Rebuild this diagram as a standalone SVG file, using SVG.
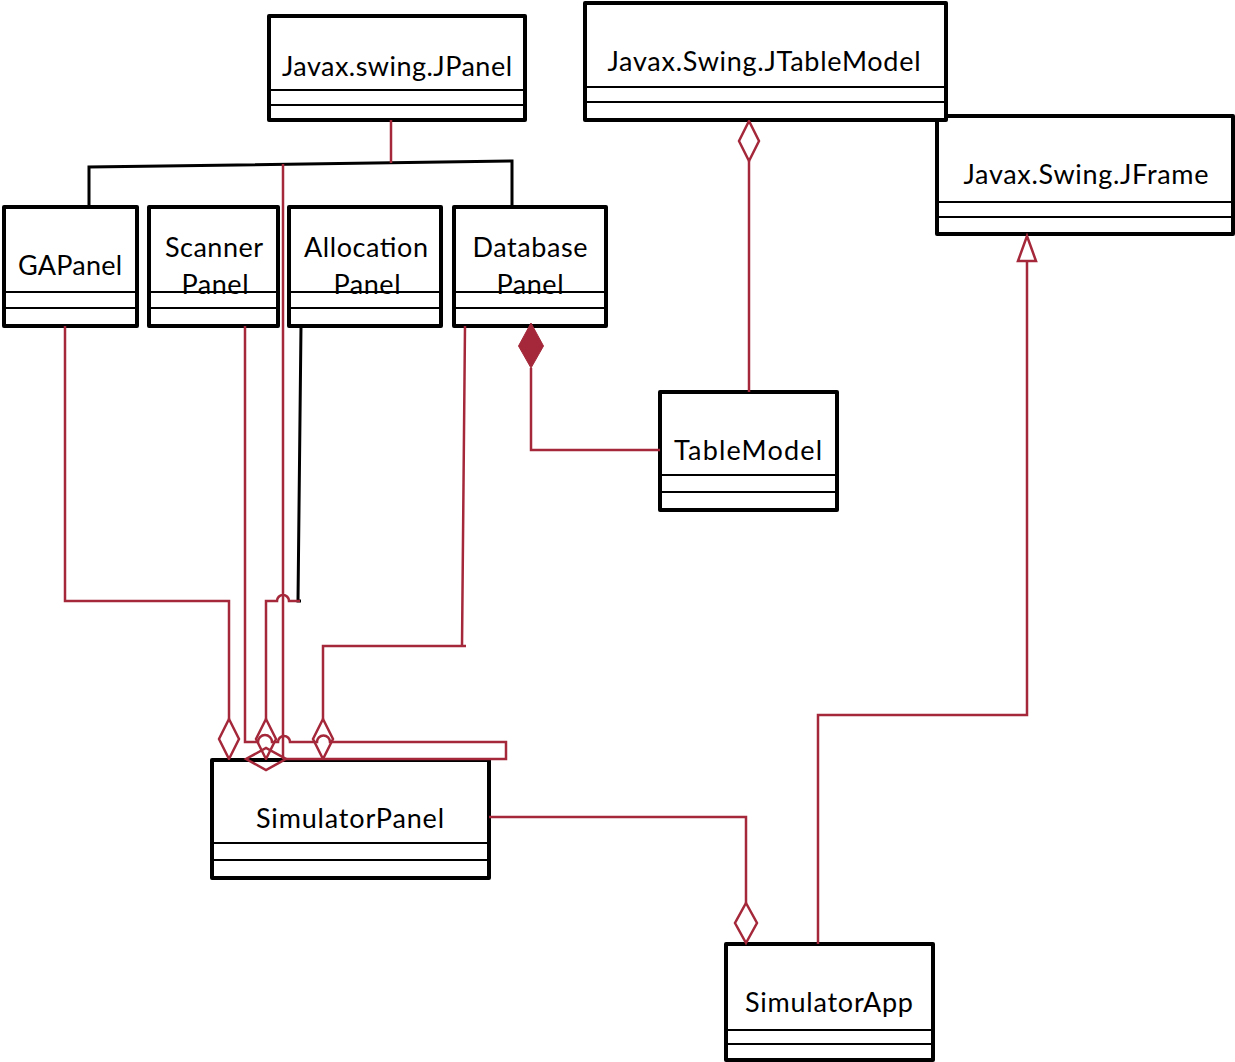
<svg xmlns="http://www.w3.org/2000/svg" width="1235" height="1062" viewBox="0 0 1235 1062">
<style>
.box{fill:#fff;stroke:#000;stroke-width:4;stroke-linejoin:round}
.dv{stroke:#000;stroke-width:2}
.t{font-family:Lato,"Liberation Sans",sans-serif;font-size:27px;fill:#000;text-anchor:middle}
.r{stroke:#a4283a;stroke-width:2.5;fill:none}
.k{stroke:#000;stroke-width:3;fill:none}
</style>
<defs>
<marker id="od" markerUnits="userSpaceOnUse" markerWidth="42" markerHeight="24" viewBox="-1 -2 42 24" refX="0" refY="10" orient="auto">
<path d="M0,10 L20,0 L40,10 L20,20 Z" fill="none" stroke="#a4283a" stroke-width="2.5"/>
</marker>
<marker id="od2" markerUnits="userSpaceOnUse" markerWidth="44" markerHeight="26" viewBox="-1 -2 44 26" refX="0" refY="11" orient="auto">
<path d="M0,11 L20,0 L40,11 L20,22 Z" fill="none" stroke="#a4283a" stroke-width="2.5"/>
</marker>
<marker id="fd" markerUnits="userSpaceOnUse" markerWidth="48" markerHeight="28" viewBox="-1 -2 48 28" refX="0" refY="12.5" orient="auto">
<path d="M0,12.5 L22,0 L45,12.5 L22,25 Z" fill="#a4283a" stroke="#a4283a" stroke-width="1"/>
</marker>
<marker id="tri" markerUnits="userSpaceOnUse" markerWidth="30" markerHeight="24" viewBox="-2 -2 30 24" refX="0" refY="10" orient="auto">
<path d="M0,1 L25,10 L0,19 Z" fill="#fff" stroke="#a4283a" stroke-width="2.5"/>
</marker>
</defs>

<g id="JFrame">
<rect class="box" x="937" y="116" width="296" height="118"/>
<line class="dv" x1="937" y1="202" x2="1233" y2="202"/>
<line class="dv" x1="937" y1="217" x2="1233" y2="217"/>
<text class="t" x="1086" y="184" textLength="245">Javax.Swing.JFrame</text>
</g>
<g id="JTableModel">
<rect class="box" x="585" y="3" width="361" height="117"/>
<line class="dv" x1="585" y1="87" x2="946" y2="87"/>
<line class="dv" x1="585" y1="102" x2="946" y2="102"/>
<text class="t" x="764" y="71" textLength="313">Javax.Swing.JTableModel</text>
</g>
<g id="JPanel">
<rect class="box" x="269" y="16" width="256" height="104"/>
<line class="dv" x1="269" y1="90" x2="525" y2="90"/>
<line class="dv" x1="269" y1="105" x2="525" y2="105"/>
<text class="t" x="397" y="76" textLength="230">Javax.swing.JPanel</text>
</g>
<g id="GAPanel">
<rect class="box" x="4" y="207" width="133" height="119"/>
<line class="dv" x1="4" y1="292" x2="137" y2="292"/>
<line class="dv" x1="4" y1="308" x2="137" y2="308"/>
<text class="t" x="70" y="275" textLength="104">GAPanel</text>
</g>
<g id="ScannerPanel">
<rect class="box" x="149" y="207" width="129" height="119"/>
<line class="dv" x1="149" y1="292" x2="278" y2="292"/>
<line class="dv" x1="149" y1="308" x2="278" y2="308"/>
<text class="t" x="214" y="257" textLength="98">Scanner</text>
<text class="t" x="215" y="294" textLength="67">Panel</text>
</g>
<g id="AllocationPanel">
<rect class="box" x="289" y="207" width="152" height="119"/>
<line class="dv" x1="289" y1="292" x2="441" y2="292"/>
<line class="dv" x1="289" y1="308" x2="441" y2="308"/>
<text class="t" x="366" y="257" textLength="124">Allocation</text>
<text class="t" x="367" y="294" textLength="67">Panel</text>
</g>
<g id="DatabasePanel">
<rect class="box" x="454" y="207" width="152" height="119"/>
<line class="dv" x1="454" y1="292" x2="606" y2="292"/>
<line class="dv" x1="454" y1="308" x2="606" y2="308"/>
<text class="t" x="530" y="257" textLength="115">Database</text>
<text class="t" x="530" y="294" textLength="67">Panel</text>
</g>
<g id="TableModel">
<rect class="box" x="660" y="392" width="177" height="118"/>
<line class="dv" x1="660" y1="475" x2="837" y2="475"/>
<line class="dv" x1="660" y1="492" x2="837" y2="492"/>
<text class="t" x="748" y="460" textLength="148">TableModel</text>
</g>
<g id="SimulatorPanel">
<rect class="box" x="212" y="760" width="277" height="118"/>
<line class="dv" x1="212" y1="843" x2="489" y2="843"/>
<line class="dv" x1="212" y1="860" x2="489" y2="860"/>
<text class="t" x="350" y="828" textLength="188">SimulatorPanel</text>
</g>
<g id="SimulatorApp">
<rect class="box" x="726" y="944" width="207" height="116"/>
<line class="dv" x1="726" y1="1030" x2="933" y2="1030"/>
<line class="dv" x1="726" y1="1044" x2="933" y2="1044"/>
<text class="t" x="829" y="1012" textLength="168">SimulatorApp</text>
</g>

<g id="connectors">
<polyline class="k" points="89,207 89,167 512,161 512,207"/>
<line class="r" x1="391" y1="120" x2="391" y2="163"/>
<line class="r" x1="283" y1="164" x2="283" y2="759"/>
<polyline class="k" points="301,326 298,601 301,601"/>
<path class="r" d="M300,601 H289 A6,6 0 0 0 277,601 H266 V719" marker-end="url(#od)"/>
<path class="r" d="M65,326 V601 H229 V719" marker-end="url(#od)"/>
<path class="r" d="M245,326 V742 H258 A7,7 0 0 1 272,742 H278 A6,6 0 0 1 290,742 H317 A6.5,6.5 0 0 1 330,742 H506 V759 H286" marker-end="url(#od2)"/>
<path class="r" d="M465,326 L462,646 M466,646 H323 V719" marker-end="url(#od)"/>
<path class="r" d="M660,450 H531 V368" marker-end="url(#fd)"/>
<line class="r" x1="749" y1="392" x2="749" y2="161" marker-end="url(#od)"/>
<path class="r" d="M489,817 H746 V903" marker-end="url(#od2)"/>
<path class="r" d="M818,944 V715 H1027 V261" marker-end="url(#tri)"/>
</g>
</svg>
